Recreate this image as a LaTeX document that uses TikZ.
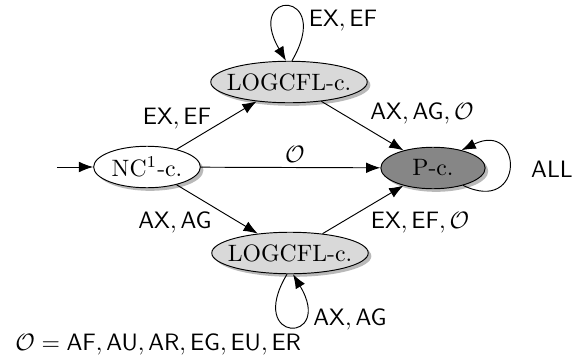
\documentclass[tikz,border=0pt]{standalone}
\usetikzlibrary{shapes.geometric,shadows,arrows.meta}
\begin{document}
\begin{tikzpicture}[x=0.4217pt,y=-0.4217pt,
  >={Latex[length=6pt,width=4.5pt]},
  state/.style={ellipse,draw,inner sep=0pt,minimum height=17.5pt,
     drop shadow={shadow xshift=1.3pt,shadow yshift=-1.3pt,opacity=0.55}},
  lbl/.style={font=\sffamily}]
\useasboundingbox (0,0) rectangle (575,362);
\node[state,fill=white,minimum width=45pt] (nc) at (147,167) {\makebox[0pt]{NC$^1$-c.}};
\node[state,fill=gray!30,minimum width=66pt] (lt) at (289,82) {\makebox[0pt]{LOGCFL-c.}};
\node[state,fill=gray!30,minimum width=66pt] (lb) at (290,253) {\makebox[0pt]{LOGCFL-c.}};
\node[state,fill=gray!95!white,minimum width=44pt] (p) at (433,168) {\makebox[0pt]{P-c.}};
\coordinate (start) at (57,167);
\draw[->] (start) -- (nc);
\draw[->] (nc) -- (lt);
\draw[->] (nc) -- (lb);
\draw[->] (nc) -- (p);
\draw[->] (lt) -- (p);
\draw[->] (lb) -- (p);
\draw[->] (lt.82) .. controls +(42,-72) and +(-42,-72) .. (lt.98);
\draw[->] (lb.262) .. controls +(-42,70) and +(42,70) .. (lb.278);
\draw[->] (p.-30) .. controls +(62,30) and +(62,-30) .. (p.32);
\node[lbl] (l1) at (343,21) {$\mathsf{EX},\mathsf{EF}$};
\node[lbl] (l2) at (177,119) {$\mathsf{EX},\mathsf{EF}$};
\node[lbl] (l3) at (422,114) {$\mathsf{AX},\mathsf{AG},\mathcal{O}$};
\node[lbl] (l4) at (295,154) {$\mathcal{O}$};
\node[lbl] (l5) at (552,169) {$\mathsf{ALL}$};
\node[lbl] (l6) at (175,223) {$\mathsf{AX},\mathsf{AG}$};
\node[lbl] (l7) at (420,223) {$\mathsf{EX},\mathsf{EF},\mathcal{O}$};
\node[lbl] (l8) at (350,320) {$\mathsf{AX},\mathsf{AG}$};
\node[lbl,anchor=west] (l9) at (7,345) {$\mathcal{O}=\mathsf{AF},\mathsf{AU},\mathsf{AR},\mathsf{EG},\mathsf{EU},\mathsf{ER}$};
\end{tikzpicture}
\end{document}
